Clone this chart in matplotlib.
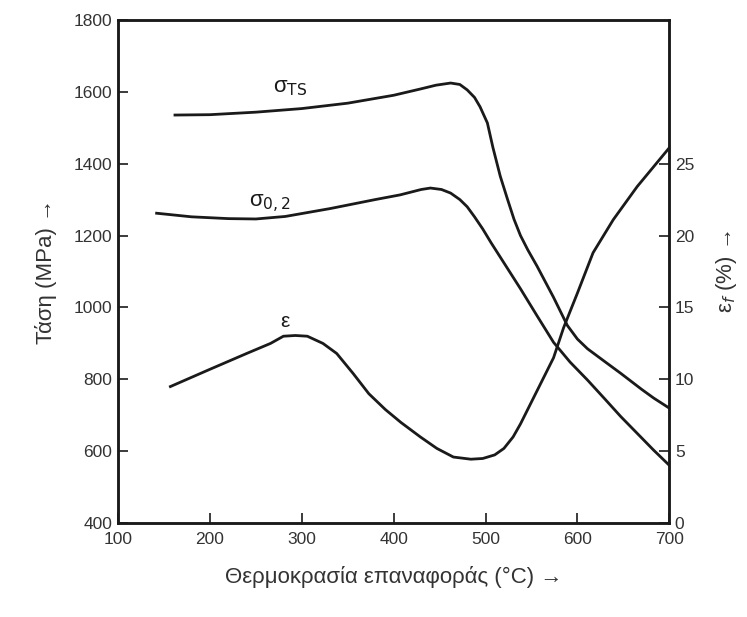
import matplotlib
matplotlib.use("Agg")
import matplotlib.pyplot as plt

plt.rcParams['font.family'] = ['Liberation Sans', 'DejaVu Sans']

# Tensile strength sigma_TS (MPa)
ts_x = [162, 200, 250, 300, 350, 400, 430, 446, 462, 472, 480, 488, 494, 502, 508, 516, 524, 531, 538, 546, 556, 574, 589, 600, 611, 630, 647, 670, 683, 700]
ts_y = [1535, 1536, 1543, 1553, 1568, 1590, 1608, 1618, 1624, 1620, 1605, 1584, 1558, 1513, 1445, 1365, 1300, 1245, 1200, 1160, 1115, 1028, 950, 912, 885, 849, 817, 772, 748, 720]

# Yield strength sigma_0.2 (MPa)
ys_x = [142, 180, 220, 250, 282, 331, 380, 407, 430, 440, 452, 462, 472, 480, 488, 497, 506, 516, 538, 556, 574, 592, 611, 630, 647, 665, 683, 700]
ys_y = [1262, 1252, 1247, 1246, 1253, 1275, 1300, 1313, 1328, 1332, 1328, 1318, 1300, 1280, 1252, 1218, 1180, 1140, 1052, 977, 903, 848, 798, 745, 697, 650, 603, 561]

# Elongation epsilon_f (%)
el_x = [157, 200, 240, 266, 280, 293, 306, 323, 338, 356, 373, 391, 408, 429, 447, 465, 484, 497, 510, 520, 530, 538, 556, 574, 585, 600, 617, 639, 665, 700]
el_y = [9.5, 10.7, 11.8, 12.5, 13.0, 13.05, 13.0, 12.5, 11.8, 10.4, 9.0, 7.9, 7.0, 6.0, 5.2, 4.6, 4.45, 4.5, 4.75, 5.2, 6.0, 6.9, 9.2, 11.5, 13.6, 16.0, 18.8, 21.1, 23.4, 26.1]

x_ticks = [100, 200, 300, 400, 500, 600, 700]
left_ticks = [400, 600, 800, 1000, 1200, 1400, 1600, 1800]
right_ticks = [0, 5, 10, 15, 20, 25]

fig = plt.figure(figsize=(7.47, 6.17), dpi=100)
ax = fig.add_axes([0.158, 0.152, 0.738, 0.816])
ax2 = ax.twinx()

lw = 2.0
col = '#1a1a1a'
ax.plot(ts_x, ts_y, color=col, lw=lw, solid_joinstyle='round')
ax.plot(ys_x, ys_y, color=col, lw=lw, solid_joinstyle='round')
ax2.plot(el_x, el_y, color=col, lw=lw, solid_joinstyle='round')

ax.set_xlim(100, 700)
ax.set_ylim(400, 1800)
ax2.set_ylim(0, 35)
ax.set_xticks(x_ticks)
ax.set_yticks(left_ticks)
ax2.set_yticks(right_ticks)

tc = '#333333'
ax.tick_params(axis='both', direction='in', length=7, width=1.2, labelsize=12.5, colors=col, labelcolor=tc, pad=4)
ax.tick_params(axis='x', pad=6)
ax2.tick_params(axis='y', direction='in', length=7, width=1.2, labelsize=12.5, colors=col, labelcolor=tc, pad=4)

for a in (ax, ax2):
    for s in a.spines.values():
        s.set_linewidth(1.8)
        s.set_color(col)

ax.set_xlabel('Θερμοκρασία επαναφοράς (°C) →', fontsize=16, color=tc, labelpad=14)
ax.set_ylabel('Τάση (MPa) →', fontsize=16, color=tc, labelpad=12)
ax2.set_ylabel('ε$_f$ (%) →', fontsize=16, color=tc, labelpad=14)

ax.text(287, 1612, 'σ$_{\\mathrm{TS}}$', fontsize=16, color=col, ha='center', va='center')
ax.text(265, 1287, 'σ$_{0,2}$', fontsize=16, color=col, ha='center', va='center')
ax.text(282, 962, 'ε', fontsize=15, color=col, ha='center', va='center')

fig.savefig('out.png', dpi=100)
